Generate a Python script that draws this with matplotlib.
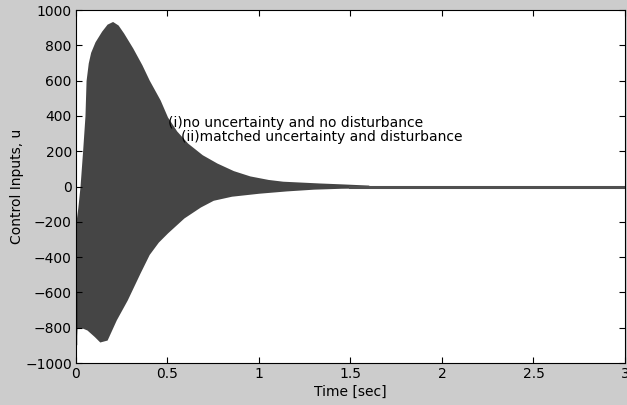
import numpy as np
import matplotlib
matplotlib.use("Agg")
import matplotlib.pyplot as plt

plt.rcParams['font.family'] = ['DejaVu Sans']

# envelope of the oscillating control input
t_env = [0.0, 0.01, 0.022, 0.036, 0.049, 0.055, 0.067, 0.08, 0.104, 0.14, 0.17, 0.20,
         0.23, 0.26, 0.31, 0.36, 0.40, 0.46, 0.50, 0.55, 0.61, 0.69, 0.77, 0.86, 0.95,
         1.05, 1.13, 1.33, 1.45, 1.6]
u_upper = [-200, -120, 0, 200, 400, 600, 700, 760, 820, 880, 920, 935,
           915, 870, 785, 690, 603, 490, 394, 315, 246, 180, 133, 90, 60,
           40, 30, 20, 15, 8]
t_low = [0.0, 0.005, 0.03, 0.06, 0.10, 0.13, 0.17, 0.22, 0.28, 0.35, 0.40, 0.45, 0.50,
         0.59, 0.68, 0.75, 0.85, 1.0, 1.15, 1.3, 1.45, 1.6]
u_lower = [-900, -802, -800, -813, -850, -881, -870, -756, -643, -490, -385, -315, -263,
           -178, -116, -78, -55, -38, -25, -15, -10, -8]

xticks = [0, 0.5, 1, 1.5, 2, 2.5, 3]
xticklabels = ['0', '0.5', '1', '1.5', '2', '2.5', '3']
yticks = [-1000, -800, -600, -400, -200, 0, 200, 400, 600, 800, 1000]

fig = plt.figure(figsize=(6.27, 4.05), dpi=100, facecolor='#cccccc')
ax = fig.add_axes([0.1212, 0.1037, 0.8756, 0.8716])
ax.set_facecolor('white')

tt = np.union1d(t_env, t_low)
up = np.interp(tt, t_env, u_upper)
lo = np.interp(tt, t_low, u_lower)
ax.fill_between(tt, lo, up, color='#454545', lw=0)
ax.plot([0, 0], [-600, -890], color='black', lw=1)
ax.plot([1.5, 3], [0, 0], color='#505050', lw=2.2)

ax.text(0.505, 360, '(i)no uncertainty and no disturbance', fontsize=10, va='center')
ax.text(0.575, 278, '(ii)matched uncertainty and disturbance', fontsize=10, va='center')

ax.set_xlim(0, 3)
ax.set_ylim(-1000, 1000)
ax.set_xticks(xticks)
ax.set_xticklabels(xticklabels)
ax.set_yticks(yticks)
ax.tick_params(direction='in', length=4, top=True, right=True, labelsize=10, pad=3)
ax.set_xlabel('Time [sec]', fontsize=10, labelpad=3)
ax.set_ylabel('Control Inputs, u', fontsize=10, labelpad=1)
for s in ax.spines.values():
    s.set_linewidth(0.8)

fig.savefig('out.png', dpi=100, facecolor=fig.get_facecolor())
